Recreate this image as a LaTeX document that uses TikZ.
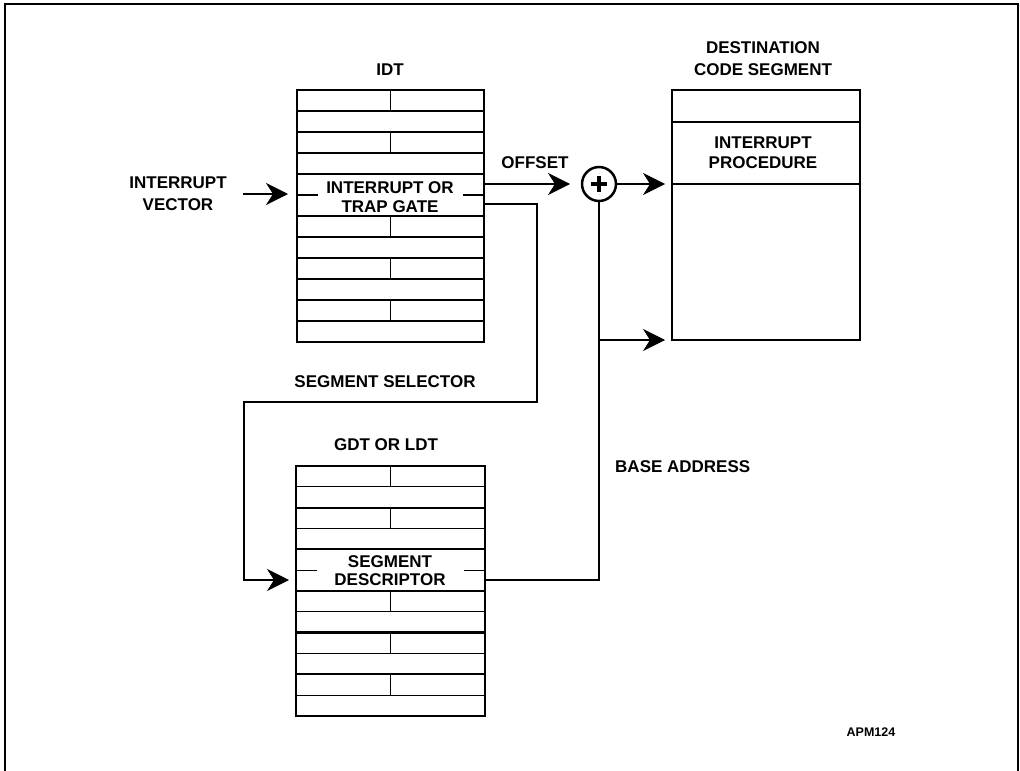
\documentclass[tikz,border=0pt]{standalone}
\usepackage{fontspec}
\setmainfont{Liberation Sans}
\usetikzlibrary{arrows.meta}
\newcommand\drawdesctable[4]{%
  \pgfmathsetmacro\tmidx{(#1+#3)/2}%
  \foreach \k in {0,2,6,8,10} {\draw[thinln] (\tmidx,{#2+\k*#4}) -- (\tmidx,{#2+(\k+1)*#4});}
  \foreach \k in {1,3,7,9,11} {\draw[thinln] (#1,{#2+\k*#4}) -- (#3,{#2+\k*#4});}
  \foreach \k in {2,4,6,8,10} {\draw[thickln] (#1,{#2+\k*#4}) -- (#3,{#2+\k*#4});}
  \draw[thinln] (#1,{#2+5*#4}) -- ++(21,0);
  \draw[thinln] (#3,{#2+5*#4}) -- ++(-21,0);
}
\begin{document}
\begin{tikzpicture}[x=1pt,y=-1pt,
  lbl/.style={font=\bfseries\fontsize{17}{20}\selectfont, align=center, inner sep=0pt},
  conn/.style={line width=1.3pt},
  arr/.style={conn, -{Stealth[length=22pt,width=22pt,inset=7pt]}},
  tblframe/.style={draw, line width=2.7pt, inner sep=0pt, outer sep=0pt, anchor=north west},
  thinln/.style={line width=1.2pt},
  thickln/.style={line width=2.3pt}]
\useasboundingbox (0,0) rectangle (1020,771);
% outer frame
\draw[line width=2pt] (5,771) -- (5,4) -- (1018,4) -- (1018,771);

% IDT table
\drawdesctable{297}{90}{484}{21}
\node[tblframe, minimum width=187pt, minimum height=252pt] (idt) at (297,90) {};
\node[lbl] (idtlbl) at (390,70) {IDT};
\node[lbl, font=\bfseries\fontsize{17}{19}\selectfont] (idtgate) at (390,197.5) {INTERRUPT OR\\TRAP GATE};

% GDT table
\drawdesctable{296}{466}{485}{20.83}
\node[tblframe, minimum width=189pt, minimum height=250pt] (gdt) at (296,466) {};
\node[lbl] (gdtlbl) at (386,445) {GDT OR LDT};
\node[lbl, font=\bfseries\fontsize{17}{18}\selectfont] (gdtgate) at (390,571) {SEGMENT\\DESCRIPTOR};

% destination code segment
\node[tblframe, minimum width=188pt, minimum height=250pt] (dest) at (672,90) {};
\draw[thinln] (672,122) -- (860,122);
\draw[thinln] (672,184) -- (860,184);
\node[lbl, font=\bfseries\fontsize{17}{22}\selectfont] (destlbl) at (763,59) {DESTINATION\\CODE SEGMENT};
\node[lbl] (proc) at (763,153) {INTERRUPT\\PROCEDURE};

% adder
\node[draw, circle, line width=2.5pt, minimum size=34pt, inner sep=0pt, outer sep=0pt] (plus) at (599,184) {};
\draw[line width=4pt] ([xshift=-8pt]plus.center) -- ([xshift=8pt]plus.center);
\draw[line width=4pt] ([yshift=-8pt]plus.center) -- ([yshift=8pt]plus.center);

% labels
\node[lbl, font=\bfseries\fontsize{17}{22}\selectfont] (ivec) at (178,194) {INTERRUPT\\VECTOR};
\node[lbl] (offlbl) at (535,163) {OFFSET};
\node[lbl] (sellbl) at (385,382) {SEGMENT SELECTOR};
\node[lbl, anchor=west] (baselbl) at (615,467) {BASE ADDRESS};
\node[lbl, font=\bfseries\fontsize{12.5}{14}\selectfont] (apm) at (871,732) {APM124};

% connectors
\coordinate (ivstart) at (243,194);
\draw[arr, shorten >=9pt] (ivstart) -- (ivstart -| idt.west);
\draw[arr, shorten >=12pt] (plus -| idt.east) -- (plus.west);
\draw[arr, shorten >=7pt] (plus.east) -- (plus -| dest.west);
\coordinate (selout) at (484,204);
\coordinate (selturn) at (537,402);
\coordinate (gdtin) at (244,580);
\draw[arr, shorten >=7pt] (selout) -| (selturn) -| (gdtin) -- (gdtin -| gdt.west);
\coordinate (descout) at (485,580);
\draw[conn] (descout) -| (plus.south);
\coordinate (branch) at (599,340);
\draw[arr, shorten >=7pt] (branch) -- (branch -| dest.west);
\end{tikzpicture}
\end{document}
